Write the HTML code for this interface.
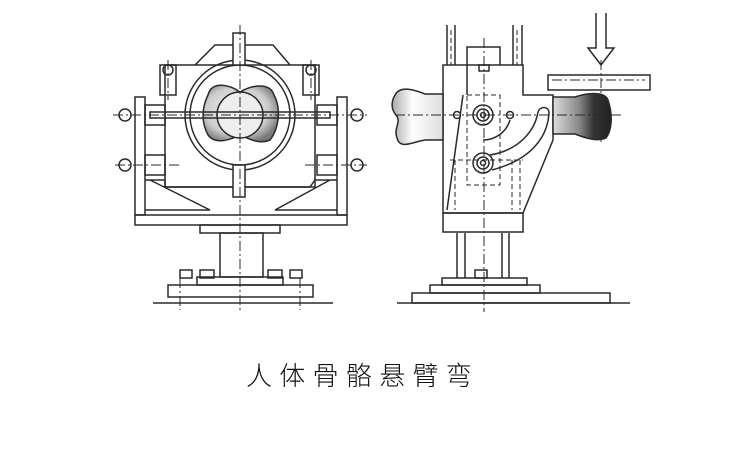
<!DOCTYPE html>
<html><head><meta charset="utf-8"><style>
html,body{margin:0;padding:0;background:#fff;}
body{width:756px;height:451px;position:relative;overflow:hidden;}
svg{position:absolute;left:0;top:0;}
.cap{position:absolute;left:246px;top:358px;font-family:"Liberation Sans","Noto Sans CJK SC",sans-serif;font-size:26px;font-weight:300;letter-spacing:7.3px;color:#111;white-space:nowrap;line-height:36px;}
</style></head><body>
<svg width="756" height="451" viewBox="0 0 756 451" fill="none" stroke="#2a2a2a" stroke-width="1.5">
<defs>
<radialGradient id="bg1" cx="0.45" cy="0.45" r="0.6"><stop offset="0" stop-color="#fafafa"/><stop offset="0.7" stop-color="#ccc"/><stop offset="1" stop-color="#777"/></radialGradient>
<linearGradient id="bg2" x1="0" x2="1"><stop offset="0" stop-color="#ddd"/><stop offset="0.45" stop-color="#888"/><stop offset="0.7" stop-color="#333"/><stop offset="1" stop-color="#222"/></linearGradient>
<linearGradient id="bg3" x1="0" x2="1"><stop offset="0" stop-color="#aaa"/><stop offset="0.4" stop-color="#fff"/><stop offset="1" stop-color="#ddd"/></linearGradient>
</defs>
<!-- LEFT VIEW -->
<line x1="153" y1="303" x2="333" y2="303"/>
<rect x="168" y="285" width="145" height="12"/>
<rect x="197" y="277" width="86" height="8"/>
<rect x="220" y="233" width="43" height="44"/>
<rect x="200" y="225" width="80" height="8"/>
<rect x="135" y="215" width="212" height="10"/>
<rect x="135" y="97" width="10" height="118"/>
<rect x="337" y="97" width="10" height="118"/>
<rect x="145" y="105" width="20" height="20"/><rect x="317" y="105" width="20" height="20"/>
<rect x="145" y="155" width="20" height="20"/><rect x="317" y="155" width="20" height="20"/>
<path d="M165 65 H315 V187 H165 Z"/>
<path d="M145 180 H165 L165 187 L310 187 L315 180 H337 M145 210 L210 210 L150 180 M337 210 L275 210 L330 180"/>
<path d="M195 65 L215 45 H273 L290 65"/>
<rect x="160" y="65" width="16" height="30"/><rect x="303" y="65" width="16" height="30"/>
<circle cx="168" cy="70" r="5"/><circle cx="311" cy="70" r="5"/>
<circle cx="125" cy="115" r="6"/><circle cx="357" cy="115" r="6"/>
<circle cx="125" cy="165" r="6"/><circle cx="357" cy="165" r="6"/>
<circle cx="240" cy="115" r="55"/><circle cx="240" cy="115" r="50"/>
<path d="M208 95 C212 80 230 85 240 92 C252 85 270 82 274 95 C282 110 278 130 270 140 C258 145 248 138 240 135 C230 140 215 145 208 135 C200 120 203 105 208 95 Z" fill="url(#bg1)"/>
<circle cx="240" cy="115" r="23" fill="#eee"/>
<rect x="233" y="33" width="12" height="32" fill="#fff"/>
<rect x="233" y="165" width="12" height="32" fill="#fff"/>
<rect x="150" y="112" width="180" height="6"/>
<rect x="180" y="270" width="12" height="8"/><rect x="290" y="270" width="12" height="8"/>
<rect x="200" y="270" width="14" height="8"/><rect x="268" y="270" width="14" height="8"/>
<g stroke-dasharray="10 3 2 3" stroke-width="1">
<line x1="240" y1="25" x2="240" y2="312"/>
<line x1="113" y1="115" x2="367" y2="115"/>
<line x1="115" y1="165" x2="180" y2="165"/><line x1="305" y1="165" x2="367" y2="165"/>
<line x1="168" y1="60" x2="168" y2="100"/><line x1="311" y1="60" x2="311" y2="100"/>
<line x1="180" y1="278" x2="180" y2="310"/><line x1="300" y1="278" x2="300" y2="310"/>
</g>
<!-- RIGHT VIEW -->
<line x1="397" y1="303" x2="630" y2="303"/>
<rect x="412" y="293" width="198" height="10"/>
<rect x="430" y="285" width="110" height="8"/>
<rect x="442" y="278" width="85" height="7"/>
<rect x="475" y="270" width="12" height="8"/>
<line x1="457" y1="233" x2="457" y2="278"/><line x1="465" y1="233" x2="465" y2="278"/>
<line x1="502" y1="233" x2="502" y2="278"/><line x1="509" y1="233" x2="509" y2="278"/>
<rect x="443" y="213" width="80" height="19"/>
<path d="M443 65 H523 V95 H553 V140 L523 213 H443 Z"/>
<path d="M467 95 V47 H500 V65"/>
<rect x="479" y="65" width="10" height="6"/>
<line x1="447" y1="25" x2="447" y2="65"/><line x1="455" y1="25" x2="455" y2="65"/>
<line x1="513" y1="25" x2="513" y2="65"/><line x1="522" y1="25" x2="522" y2="65"/>
<line x1="463" y1="95" x2="447" y2="210"/>
<path d="M395 95 C400 85 415 90 425 94 L443 94 L443 140 L425 140 C412 142 400 150 397 138 C393 128 402 122 396 115 C390 108 392 100 395 95 Z" fill="url(#bg3)"/>
<path d="M553 97 L575 97 C590 92 605 92 608 100 C613 115 612 130 606 138 C598 142 585 138 575 134 L553 134 Z" fill="url(#bg2)"/>
<rect x="548" y="75" width="102" height="15" fill="#fff"/>
<path d="M596 13 V48 H588 L601 65 L614 48 H606 V13" fill="#fff"/>
<circle cx="483" cy="115" r="10"/><circle cx="483" cy="115" r="6"/><circle cx="483" cy="115" r="2.5"/>
<circle cx="483" cy="163" r="10"/><circle cx="483" cy="163" r="6"/><circle cx="483" cy="163" r="2.5"/>
<circle cx="457" cy="115" r="3.5"/><circle cx="510" cy="115" r="3.5"/>
<path d="M483 140 A28 28 0 0 0 510 120"/>
<path d="M490 155 C520 150 535 130 538 112 C540 106 548 106 549 112 C548 138 530 160 492 170"/>
<g stroke-dasharray="5 3" stroke-width="1">
<rect x="467" y="95" width="33" height="90"/>
<line x1="450" y1="160" x2="523" y2="160"/>
<line x1="455" y1="160" x2="455" y2="210"/><line x1="512" y1="160" x2="512" y2="210"/>
<line x1="520" y1="160" x2="520" y2="210"/>
<line x1="451" y1="30" x2="451" y2="65"/><line x1="517" y1="30" x2="517" y2="65"/>
</g>
<g stroke-dasharray="10 3 2 3" stroke-width="1">
<line x1="484" y1="38" x2="484" y2="312"/>
<line x1="395" y1="115" x2="622" y2="115"/>
<line x1="601" y1="60" x2="601" y2="145"/>
<line x1="552" y1="80" x2="645" y2="80"/>
</g>
</svg>
<div class="cap">人体骨骼悬臂弯</div>
</body></html>
